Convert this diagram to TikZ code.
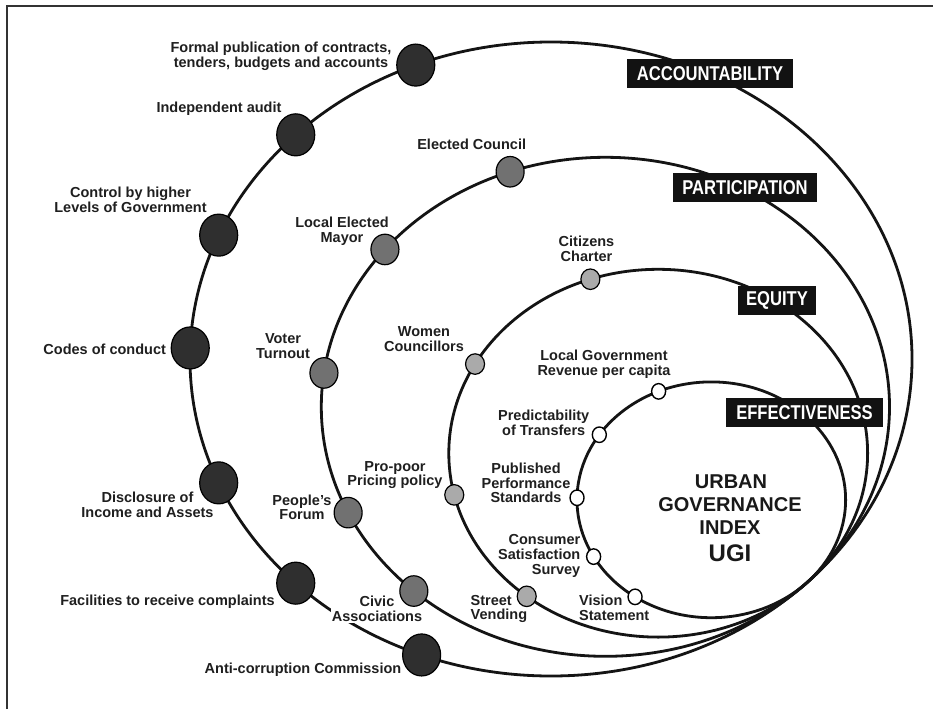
\documentclass[tikz,border=0pt]{standalone}
\usepackage{fontspec}
\setmainfont{Liberation Sans}
\newfontfamily\boxfont[FakeStretch=0.83]{Liberation Sans}
\usetikzlibrary{shapes.geometric}
\definecolor{dotdark}{HTML}{2F2F2F}
\definecolor{dotmid}{HTML}{717171}
\definecolor{dotlight}{HTML}{AAAAAA}
\newcommand\onring[6]{\coordinate (#1) at ({#2+#4*cos(#6)},{#3-#5*sin(#6)});}
\begin{document}
\begin{tikzpicture}[x=1pt,y=-1pt,
  ring/.style={line width=2.8pt, black!92},
  lbl/.style={font=\fontsize{14.5}{14.6}\selectfont\bfseries, align=center, inner sep=0pt, text=black!88},
  tag/.style={fill=black!93, text=white, font=\boxfont\fontsize{20}{20}\selectfont\bfseries, minimum height=29pt, inner sep=0pt},
  ugi/.style={font=\fontsize{20}{20}\selectfont\bfseries, anchor=base, inner sep=0pt, text=black!90},
  dotA/.style={ellipse, draw=black, line width=1.2pt, fill=dotdark, minimum width=38pt, minimum height=42pt, inner sep=0pt},
  dotB/.style={ellipse, draw=black, line width=1.2pt, fill=dotmid, minimum width=28pt, minimum height=30.5pt, inner sep=0pt},
  dotC/.style={ellipse, draw=black, line width=1.2pt, fill=dotlight, minimum width=19pt, minimum height=20.5pt, inner sep=0pt},
  dotD/.style={ellipse, draw=black, line width=1.4pt, fill=white, minimum width=14pt, minimum height=15.5pt, inner sep=0pt}]
\useasboundingbox (0,0) rectangle (933,709);
\fill[white] (0,0) rectangle (933,709);
% frame
\coordinate (fbl) at (7,709);
\coordinate (ftl) at (7,6);
\coordinate (ftr) at (933,6);
\draw[line width=1.2pt, black!80] (fbl) -- (ftl) -- (ftr);

% rings
\draw[ring] (551,359) ellipse [x radius=361pt, y radius=317pt];
\draw[ring] (605.4,406.8) ellipse [x radius=284.1pt, y radius=249.5pt];
\draw[ring] (658.2,453.2) ellipse [x radius=209.4pt, y radius=183.9pt];
\draw[ring] (711.3,499.8) ellipse [x radius=134.3pt, y radius=117.9pt];

% points on rings
\onring{a1}{551}{359}{361}{317}{112}
\onring{a2}{551}{359}{361}{317}{135}
\onring{a3}{551}{359}{361}{317}{157}
\onring{a4}{551}{359}{361}{317}{178}
\onring{a5}{551}{359}{361}{317}{203}
\onring{a6}{551}{359}{361}{317}{225}
\onring{a7}{551}{359}{361}{317}{249}
\onring{b1}{605.4}{406.8}{284.1}{249.5}{109.6}
\onring{b2}{605.4}{406.8}{284.1}{249.5}{140.9}
\onring{b3}{605.4}{406.8}{284.1}{249.5}{172.2}
\onring{b4}{605.4}{406.8}{284.1}{249.5}{205.1}
\onring{b5}{605.4}{406.8}{284.1}{249.5}{227.6}
\onring{c1}{658.2}{453.2}{209.4}{183.9}{108.9}
\onring{c2}{658.2}{453.2}{209.4}{183.9}{151}
\onring{c3}{658.2}{453.2}{209.4}{183.9}{193.1}
\onring{c4}{658.2}{453.2}{209.4}{183.9}{231.1}
\onring{d1}{711.3}{499.8}{134.3}{117.9}{113.1}
\onring{d2}{711.3}{499.8}{134.3}{117.9}{146.5}
\onring{d3}{711.3}{499.8}{134.3}{117.9}{179}
\onring{d4}{711.3}{499.8}{134.3}{117.9}{208.8}
\onring{d5}{711.3}{499.8}{134.3}{117.9}{235.4}

% labels: accountability
\node[lbl] (la1) at (281,56) {Formal publication of contracts,\\tenders, budgets and accounts};
\node[lbl] (la2) at (219,109) {Independent audit};
\node[lbl] (la3) at (130.5,200) {Control by higher\\Levels of Government};
\node[lbl] (la4) at (104.7,349.5) {Codes of conduct};
\node[lbl] (la5) at (147.5,505) {Disclosure of\\Income and Assets};
\node[lbl] (la6) at (167.5,602) {Facilities to receive complaints};
\node[lbl] (la7) at (303,669.5) {Anti-corruption Commission};
% participation
\node[lbl] (lb1) at (471.7,144) {Elected Council};
\node[lbl] (lb2) at (342,231) {Local Elected\\Mayor};
\node[lbl] (lb3) at (283,346) {Voter\\Turnout};
\node[lbl] (lb4) at (302,507.5) {People's\\Forum};
\node[lbl, fill=white, inner sep=1pt] (lb5) at (377,609) {Civic\\Associations};
% equity
\node[lbl] (lc1) at (586.5,249) {Citizens\\Charter};
\node[lbl] (lc2) at (424,339) {Women\\Councillors};
\node[lbl] (lc3) at (395,475) {Pro-poor\\Pricing policy};
\node[lbl, align=left, anchor=west] (lc4) at (470.5,609) {Street\\Vending};
% effectiveness
\node[lbl] (ld1) at (604,364) {Local Government\\Revenue per capita};
\node[lbl] (ld2) at (543.7,423) {Predictability\\of Transfers};
\node[lbl] (ld3) at (526,483) {Published\\Performance\\Standards};
\node[lbl, align=right, anchor=east] (ld4) at (580.5,556) {Consumer\\Satisfaction\\Survey};
\node[lbl, align=left, anchor=west] (ld5) at (579,608) {Vision\\Statement};

% centre text
\node[ugi] (u1) at (731,488.5) {URBAN};
\node[ugi] (u2) at (730,511.7) {GOVERNANCE};
\node[ugi] (u3) at (730,534.3) {INDEX};
\node[ugi, font=\fontsize{24}{24}\selectfont\bfseries] (u4) at (730,561.7) {UGI};

% tags
\node[tag, minimum width=166pt] (tA) at (710,73.7) {ACCOUNTABILITY};
\node[tag, minimum width=144pt] (tB) at (745,187.5) {PARTICIPATION};
\node[tag, minimum width=78pt] (tC) at (777,300.5) {EQUITY};
\node[tag, minimum width=157.6pt] (tD) at (804.5,412.5) {EFFECTIVENESS};

% dots
\foreach \p in {a1,a2,a3,a4,a5,a6,a7} \node[dotA] (n\p) at (\p) {};
\foreach \p in {b1,b2,b3,b4,b5} \node[dotB] (n\p) at (\p) {};
\foreach \p in {c1,c2,c3,c4} \node[dotC] (n\p) at (\p) {};
\foreach \p in {d1,d2,d3,d4,d5} \node[dotD] (n\p) at (\p) {};
\end{tikzpicture}
\end{document}
